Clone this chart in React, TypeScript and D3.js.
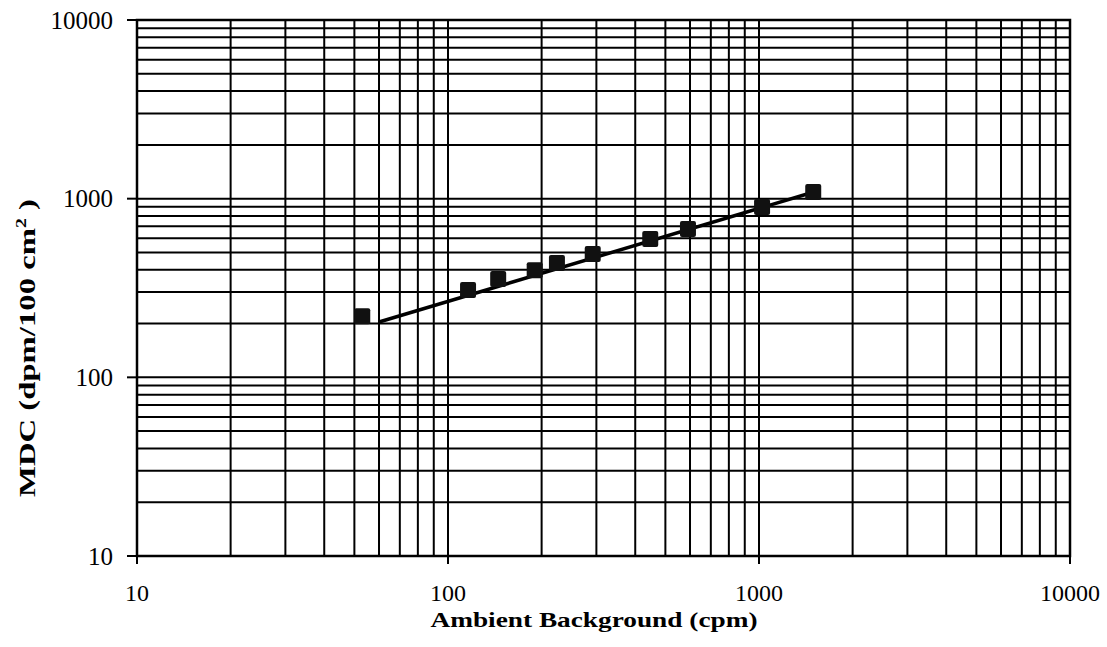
import React, { useRef, useEffect } from "react";
import * as d3 from "d3";

const majorTicks = [10, 100, 1000, 10000];
const background = [53, 116, 145, 190, 224, 292, 447, 591, 1023, 1494];
const mdc = [220, 308, 355, 398, 437, 490, 594, 676, 897, 1089];
const fitBackground = [60, 1500];
const fitMdc = [204, 1090];

const App = () => {
  const svgRef = useRef<SVGSVGElement>(null);
  const width = 1107;
  const height = 647;
  const left = 137;
  const right = 1070;
  const top = 20;
  const bottom = 556;

  useEffect(() => {
    const svg = d3.select(svgRef.current);
    svg.selectAll("*").remove();

    const x = d3.scaleLog().domain([10, 10000]).range([left, right]);
    const y = d3.scaleLog().domain([10, 10000]).range([bottom, top]);
    const font = "'Liberation Serif', 'Times New Roman', serif";

    // grid, every 1..9 per decade
    const grid = svg.append("g").attr("stroke", "#000").attr("stroke-width", 2);
    grid
      .selectAll("line.v")
      .data(x.ticks())
      .join("line")
      .attr("x1", (d) => x(d))
      .attr("x2", (d) => x(d))
      .attr("y1", top)
      .attr("y2", bottom);
    grid
      .selectAll("line.h")
      .data(y.ticks())
      .join("line")
      .attr("class", "h")
      .attr("x1", left)
      .attr("x2", right)
      .attr("y1", (d) => y(d))
      .attr("y2", (d) => y(d));

    svg
      .append("rect")
      .attr("x", left)
      .attr("y", top)
      .attr("width", right - left)
      .attr("height", bottom - top)
      .attr("fill", "none")
      .attr("stroke", "#000")
      .attr("stroke-width", 2.5);

    // outward ticks at decades
    const ticks = svg.append("g").attr("stroke", "#000").attr("stroke-width", 2);
    majorTicks.forEach((t) => {
      ticks.append("line").attr("x1", left - 10).attr("x2", left).attr("y1", y(t)).attr("y2", y(t));
      ticks.append("line").attr("x1", x(t)).attr("x2", x(t)).attr("y1", bottom).attr("y2", bottom + 8);
    });

    svg
      .append("g")
      .selectAll("text")
      .data(majorTicks)
      .join("text")
      .attr("x", left - 24)
      .attr("y", (d) => y(d))
      .attr("dy", "0.35em")
      .attr("text-anchor", "end")
      .attr("font-family", font)
      .attr("font-size", 25)
      .text((d) => d);

    svg
      .append("g")
      .selectAll("text")
      .data(majorTicks)
      .join("text")
      .attr("x", (d) => x(d))
      .attr("y", 601)
      .attr("text-anchor", "middle")
      .attr("font-family", font)
      .attr("font-size", 24)
      .text((d) => d);

    svg
      .append("text")
      .attr("x", 594)
      .attr("y", 627)
      .attr("text-anchor", "middle")
      .attr("font-family", font)
      .attr("font-weight", "bold")
      .attr("font-size", 21)
      .attr("textLength", 327)
      .attr("lengthAdjust", "spacingAndGlyphs")
      .text("Ambient Background (cpm)");

    const yTitle = svg
      .append("text")
      .attr("transform", "translate(35,348) rotate(-90)")
      .attr("text-anchor", "middle")
      .attr("font-family", font)
      .attr("font-weight", "bold")
      .attr("font-size", 23)
      .attr("textLength", 298)
      .attr("lengthAdjust", "spacingAndGlyphs");
    yTitle.append("tspan").text("MDC (dpm/100 cm");
    yTitle.append("tspan").attr("dy", -9).attr("font-size", 14).text("2");
    yTitle.append("tspan").attr("dy", 9).text(" )");

    // fitted line
    const line = d3
      .line<number>()
      .x((d) => x(d))
      .y((d, i) => y(fitMdc[i]));
    svg
      .append("path")
      .datum(fitBackground)
      .attr("fill", "none")
      .attr("stroke", "#000")
      .attr("stroke-width", 3.5)
      .attr("d", line);

    svg
      .append("g")
      .selectAll("rect")
      .data(background)
      .join("rect")
      .attr("x", (d) => x(d) - 8)
      .attr("y", (d, i) => y(mdc[i]) - 8)
      .attr("width", 16)
      .attr("height", 16)
      .attr("rx", 2)
      .attr("fill", "#111");
  }, []);

  return (
    <div style={{ position: "absolute", left: 0, top: 0 }}>
      <svg ref={svgRef} width={width} height={height} style={{ display: "block", background: "#fff" }} />
    </div>
  );
};

export default App;
